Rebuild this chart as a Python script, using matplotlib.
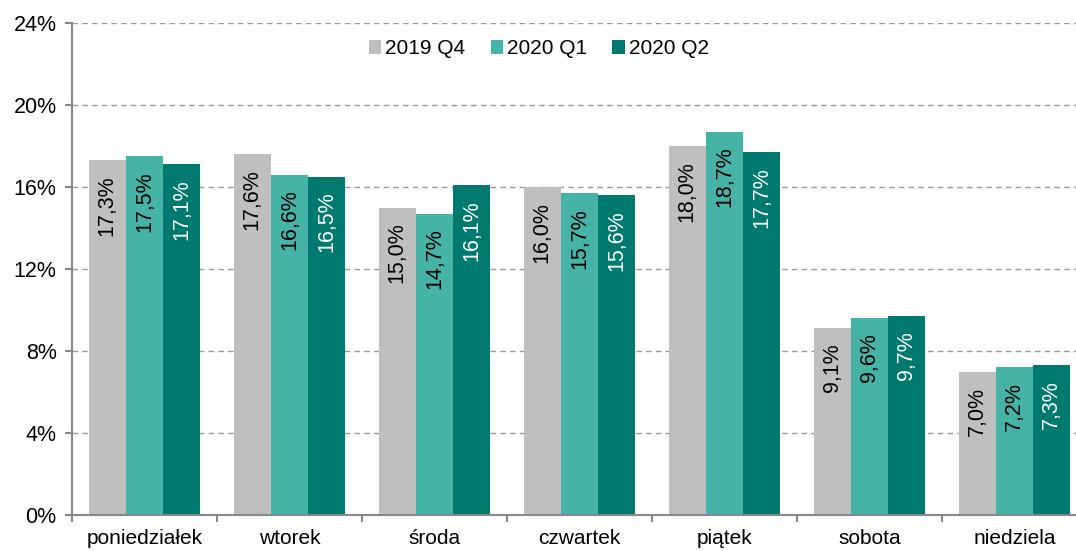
import numpy as np
import matplotlib.pyplot as plt
from matplotlib.ticker import FuncFormatter

plt.rcParams['font.family'] = ['Liberation Sans', 'DejaVu Sans']

days = ['poniedziałek', 'wtorek', 'środa', 'czwartek', 'piątek', 'sobota', 'niedziela']
series_names = ['2019 Q4', '2020 Q1', '2020 Q2']
q4_2019 = [17.3, 17.6, 15.0, 16.0, 18.0, 9.1, 7.0]
q1_2020 = [17.5, 16.6, 14.7, 15.7, 18.7, 9.6, 7.2]
q2_2020 = [17.1, 16.5, 16.1, 15.6, 17.7, 9.7, 7.3]

colors = ['#BFBFBF', '#45B3A6', '#007A6E']
label_colors = ['black', 'black', 'white']

fig = plt.figure(figsize=(10.76, 5.51), dpi=100)
# plot area runs slightly past the right edge of the picture, as in the original
ax = fig.add_axes([72/1076, 1 - 515/551, 1015/1076, 492/551])

x = np.arange(len(days))
w = 0.257
for i, (vals, name) in enumerate(zip([q4_2019, q1_2020, q2_2020], series_names)):
    xs = x + (i - 1) * w
    ax.bar(xs, vals, width=w, color=colors[i], label=name, zorder=2)
    for xi, v in zip(xs, vals):
        ax.annotate(f'{v:.1f}%'.replace('.', ','), (xi, v), xytext=(0, -15),
                    textcoords='offset pixels', rotation=90, ha='center', va='top',
                    fontsize=15.5, color=label_colors[i], zorder=3)

ax.set_xlim(-0.5, len(days) - 0.5)
ax.set_ylim(0, 24)
ax.set_yticks(np.arange(0, 25, 4))
ax.yaxis.set_major_formatter(FuncFormatter(lambda v, p: f'{v:.0f}%'))
ax.set_xticks(x)
ax.set_xticklabels(days)
ax.set_xticks(np.arange(-0.5, len(days)), minor=True)
ax.tick_params(axis='x', which='major', length=0, labelsize=15, pad=10)
ax.tick_params(axis='x', which='minor', length=5, color='#888888', width=1.5)
ax.tick_params(axis='y', length=5, color='#888888', width=1.5, labelsize=15.5, pad=6)
for y in range(4, 25, 4):
    ax.axhline(y, color='#999999', linestyle=(0, (4, 3)), linewidth=1, zorder=1)
for s in ['top', 'right']:
    ax.spines[s].set_visible(False)
for s in ['left', 'bottom']:
    ax.spines[s].set_color('#888888')
    ax.spines[s].set_linewidth(1.5)

ax.legend(loc='upper center', bbox_to_anchor=(0.46, 1.005), ncol=3, frameon=False,
          fontsize=15, handlelength=0.6, handleheight=0.6, handletextpad=0.2,
          columnspacing=1.2)

fig.savefig('out.png', dpi=100)
